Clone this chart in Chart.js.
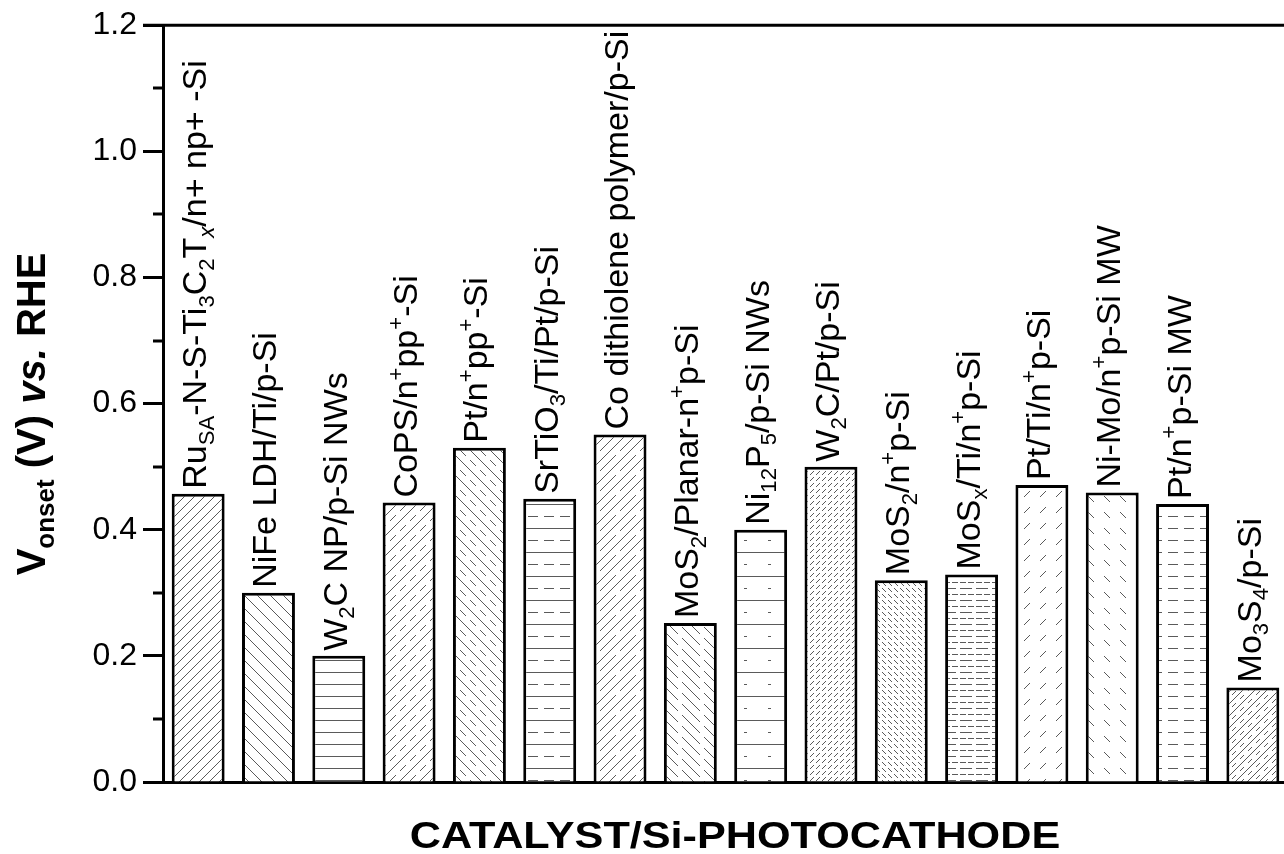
<!DOCTYPE html>
<html>
<head>
<meta charset="utf-8">
<script src="https://cdn.jsdelivr.net/npm/chart.js@4.4.1/dist/chart.umd.min.js"></script>
<style>
    html, body { margin: 0; padding: 0; background: #fff; overflow: hidden; }
    #wrap { width: 1284px; height: 854px; overflow: hidden; }
</style>
</head>
<body>
<div id="wrap"><canvas id="grafico" width="1300" height="854"></canvas></div>
<script>
// dados
const catalysts = [
    "Ru_{SA}-N-S-Ti_{3}C_{2}T_{*x}/n+ np+ -Si",
    "NiFe LDH/Ti/p-Si",
    "W_{2}C NP/p-Si NWs",
    "CoPS/n^{+}pp^{+}-Si",
    "Pt/n^{+}pp^{+}-Si",
    "SrTiO_{3}/Ti/Pt/p-Si",
    "Co dithiolene polymer/p-Si",
    "MoS_{2}/Planar-n^{+}p-Si",
    "Ni_{12}P_{5}/p-Si NWs",
    "W_{2}C/Pt/p-Si",
    "MoS_{2}/n^{+}p-Si",
    "MoS_{x}/Ti/n^{+}p-Si",
    "Pt/Ti/n^{+}p-Si",
    "Ni-Mo/n^{+}p-Si MW",
    "Pt/n^{+}p-Si MW",
    "Mo_{3}S_{4}/p-Si"
];
const onsetValues = [0.457, 0.30, 0.20, 0.443, 0.53, 0.449, 0.551, 0.252, 0.40, 0.50, 0.32, 0.329, 0.471, 0.459, 0.441, 0.15];
const yTitle = "V_{onset} (V) ~{vs.} RHE";
const xTitle = "CATALYST/Si-PHOTOCATHODE";
const yMin = 0, yMax = 1.2, yStep = 0.2;

const FONT = '"Liberation Sans", Arial, Helvetica, sans-serif';

// hachuras (dir: f = "/", b = "\", h = horizontal)
const hatchSpecs = [
    { dir: "f", gap: 10, lines: [null], tile: 20 },
    { dir: "b", gap: 13, lines: [null], tile: 26 },
    { dir: "h", gap: 12, lines: [null], tile: 24 },
    { dir: "f", gap: 10, lines: [null, [6, 4]], tile: 20 },
    { dir: "b", gap: 10, lines: [null, [6, 4]], tile: 20 },
    { dir: "h", gap: 12, lines: [null, [10, 6]], tile: 48 },
    { dir: "f", gap: 10, lines: [null, [16, 4]], tile: 20 },
    { dir: "b", gap: 11, lines: [[18, 4]], tile: 22 },
    { dir: "h", gap: 12, lines: [null, [3, 21]], tile: 24 },
    { dir: "f", gap: 6, lines: [[4, 2]], tile: 12 },
    { dir: "b", gap: 6, lines: [[4, 2]], tile: 12 },
    { dir: "h", gap: 6, lines: [[12, 4], [6, 2]], tile: 48 },
    { dir: "f", gap: 16, lines: [[6, 10]], tile: 16 },
    { dir: "b", gap: 16, lines: [[6, 10]], tile: 16 },
    { dir: "h", gap: 12, lines: [[10, 6]], tile: 48 },
    { dir: "f", gap: 6, lines: [null, [4, 4]], tile: 24 }
];

function makeHatch(spec) {
    const P = spec.tile;
    const c = document.createElement("canvas");
    c.width = P;
    c.height = P;
    const g = c.getContext("2d");
    g.fillStyle = "#fff";
    g.fillRect(0, 0, P, P);
    g.fillStyle = "#5a5a5a";
    const period = spec.gap * spec.lines.length;
    for (let y = 0; y < P; y++) {
        for (let x = 0; x < P; x++) {
            let u;
            if (spec.dir === "f") u = (x + y) % period;
            else if (spec.dir === "b") u = ((x - y) % period + period) % period;
            else u = y % period;
            if (u % spec.gap !== 0) continue;
            const dash = spec.lines[u / spec.gap];
            if (dash && x % (dash[0] + dash[1]) >= dash[0]) continue;
            g.fillRect(x, y, 1, 1);
        }
    }
    return g.createPattern(c, "repeat");
}

// texto com sub/sobrescrito
function parseRich(s) {
    const out = [];
    const re = /([_^~])\{([^}]*)\}|([^_^~]+)/g;
    let m;
    while ((m = re.exec(s))) {
        if (m[3]) { out.push({ t: m[3], k: "n", it: false }); continue; }
        let t = m[2], it = false;
        if (t[0] === "*") { it = true; t = t.slice(1); }
        if (m[1] === "~") out.push({ t, k: "n", it: true });
        else out.push({ t, k: m[1] === "_" ? "sub" : "sup", it });
    }
    return out;
}

function drawRich(ctx, segs, size, weight, measureOnly) {
    let x = 0;
    for (const s of segs) {
        const fs = s.k === "n" ? size : size * 0.65;
        const dy = s.k === "sub" ? size * 0.22 : s.k === "sup" ? -size * 0.42 : 0;
        ctx.font = (s.it ? "italic " : "") + weight + " " + fs + "px " + FONT;
        if (!measureOnly) ctx.fillText(s.t, x, dy);
        x += ctx.measureText(s.t).width;
    }
    return x;
}

const labelsPlugin = {
    id: "rotulos",
    afterDatasetsDraw(chart) {
        const ctx = chart.ctx;
        const meta = chart.getDatasetMeta(0);
        ctx.save();
        ctx.fillStyle = "#000";
        ctx.textBaseline = "alphabetic";
        ctx.textAlign = "left";
        meta.data.forEach((bar, i) => {
            ctx.save();
            ctx.translate(bar.x + 8, bar.y - 5);
            ctx.rotate(-Math.PI / 2);
            drawRich(ctx, parseRich(catalysts[i]), 34, "normal");
            ctx.restore();
        });
        ctx.restore();
    }
};

const framePlugin = {
    id: "moldura",
    afterDraw(chart) {
        const ctx = chart.ctx;
        const area = chart.chartArea;
        const y = chart.scales.y;
        ctx.save();
        ctx.strokeStyle = "#000";
        ctx.lineWidth = 3;
        ctx.beginPath();
        ctx.moveTo(area.left - 20, area.top);
        ctx.lineTo(area.right + 2, area.top);
        ctx.stroke();
        // ticks menores
        for (let v = yMin + yStep / 2; v < yMax; v += yStep) {
            const py = Math.round(y.getPixelForValue(v));
            ctx.beginPath();
            ctx.moveTo(area.left - 10, py);
            ctx.lineTo(area.left, py);
            ctx.stroke();
        }
        ctx.fillStyle = "#000";
        ctx.textBaseline = "alphabetic";
        // titulo eixo y
        const segs = parseRich(yTitle);
        const w = drawRich(ctx, segs, 40, "bold", true);
        ctx.save();
        ctx.translate(45, 414 + w / 2);
        ctx.rotate(-Math.PI / 2);
        drawRich(ctx, segs, 40, "bold");
        ctx.restore();
        // titulo eixo x
        ctx.save();
        ctx.font = "bold 36px " + FONT;
        ctx.textAlign = "center";
        ctx.translate(735, 848);
        ctx.scale(1.2, 1);
        ctx.fillText(xTitle, 0, 0);
        ctx.restore();
        ctx.restore();
    }
};

new Chart(document.getElementById("grafico"), {
    type: "bar",
    data: {
        labels: catalysts,
        datasets: [{
            data: onsetValues,
            backgroundColor: hatchSpecs.map(makeHatch),
            borderColor: "#000",
            borderWidth: 3,
            categoryPercentage: 1,
            barPercentage: 0.753
        }]
    },
    options: {
        responsive: false,
        devicePixelRatio: 1,
        animation: false,
        layout: { padding: { top: 23, right: 12, left: 0, bottom: 0 } },
        plugins: {
            legend: { display: false },
            tooltip: { enabled: false }
        },
        scales: {
            x: {
                ticks: { display: false },
                grid: { display: false },
                border: { display: true, color: "#000", width: 3 },
                afterFit(s) { s.height = 72; }
            },
            y: {
                min: yMin,
                max: yMax,
                ticks: {
                    stepSize: yStep,
                    color: "#000",
                    padding: 6,
                    font: { family: FONT, size: 32 },
                    callback: (v) => Number(v).toFixed(1)
                },
                grid: {
                    drawOnChartArea: false,
                    drawTicks: true,
                    tickLength: 20,
                    tickWidth: 3,
                    tickColor: "#000"
                },
                border: { display: true, color: "#000", width: 3 },
                afterFit(s) { s.width = 163; }
            }
        }
    },
    plugins: [labelsPlugin, framePlugin]
});
</script>
</body>
</html>
